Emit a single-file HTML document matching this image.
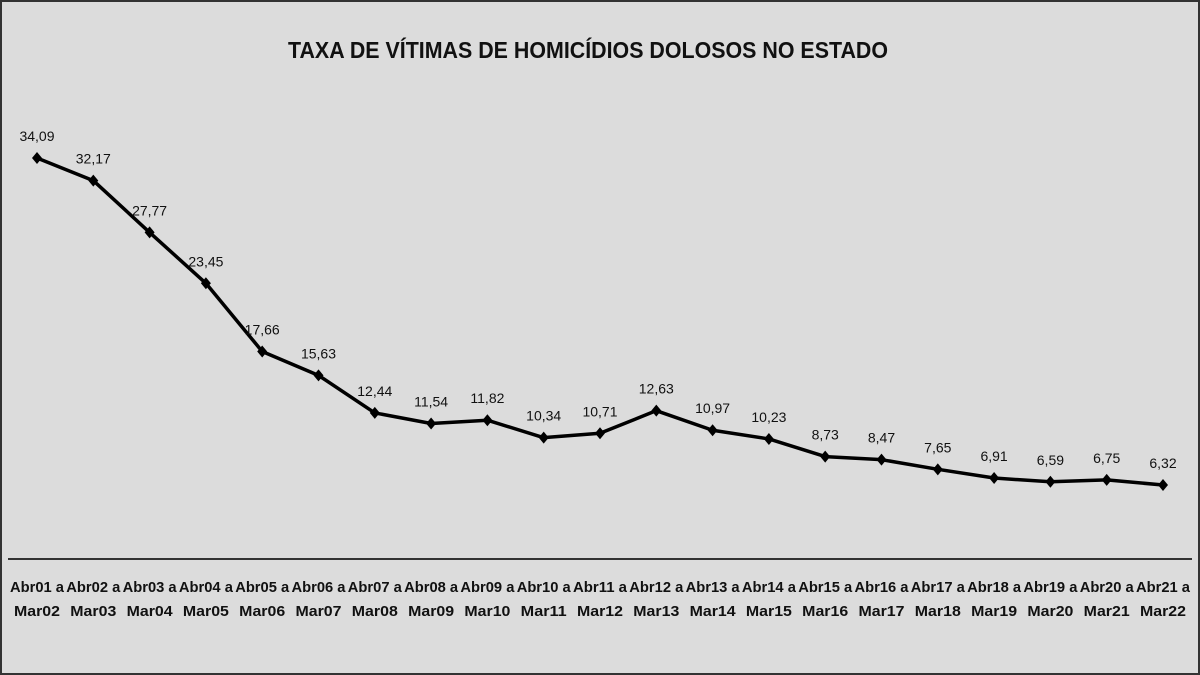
<!DOCTYPE html>
<html><head><meta charset="utf-8"><style>
html,body{margin:0;padding:0;background:#dcdcdc}
svg{display:block;font-family:"Liberation Sans",sans-serif}
</style></head><body>
<svg width="1200" height="675" viewBox="0 0 1200 675">
<rect x="1" y="1" width="1198" height="673" fill="#dcdcdc" stroke="#333" stroke-width="2"/>
<text x="588" y="58" text-anchor="middle" font-size="23" font-weight="bold" fill="#111" textLength="600" lengthAdjust="spacingAndGlyphs">TAXA DE VÍTIMAS DE HOMICÍDIOS DOLOSOS NO ESTADO</text>
<line x1="8" y1="559" x2="1192" y2="559" stroke="#333" stroke-width="2"/>
<g id="plot"></g>
</svg>
<script>
const startLabels=["Abr01","Abr02","Abr03","Abr04","Abr05","Abr06","Abr07","Abr08","Abr09","Abr10","Abr11","Abr12","Abr13","Abr14","Abr15","Abr16","Abr17","Abr18","Abr19","Abr20","Abr21"];
const endLabels=["Mar02","Mar03","Mar04","Mar05","Mar06","Mar07","Mar08","Mar09","Mar10","Mar11","Mar12","Mar13","Mar14","Mar15","Mar16","Mar17","Mar18","Mar19","Mar20","Mar21","Mar22"];
const values=[34.09,32.17,27.77,23.45,17.66,15.63,12.44,11.54,11.82,10.34,10.71,12.63,10.97,10.23,8.73,8.47,7.65,6.91,6.59,6.75,6.32];
const NS="http://www.w3.org/2000/svg";
const g=document.getElementById('plot');
const xS=i=>37+i*(1163-37)/(values.length-1);
const yS=v=>559.4-v*11.775;
function mk(t,a){const e=document.createElementNS(NS,t);for(const k in a)e.setAttribute(k,a[k]);g.appendChild(e);return e;}
const line=mk('polyline',{points:values.map((v,i)=>xS(i)+','+yS(v)).join(' '),fill:'none',stroke:'#000','stroke-width':3.5,'stroke-linejoin':'round'});


values.forEach((v,i)=>{
  const x=xS(i),y=yS(v);
  const p=mk('polygon',{points:`${x},${y-6} ${x+5},${y} ${x},${y+6} ${x-5},${y}`,fill:'#000'});
  
  
  const t=mk('text',{x:x,y:y-17,'text-anchor':'middle','font-size':14,fill:'#111'});
  t.textContent=v.toFixed(2).replace('.',',');
  
  
  const a=mk('text',{x:x,y:592,'text-anchor':'middle','font-size':15,'font-weight':'bold',fill:'#111',textLength:54,lengthAdjust:'spacingAndGlyphs'});
  a.textContent=startLabels[i]+' a';
  
  
  const b=mk('text',{x:x,y:616,'text-anchor':'middle','font-size':15,'font-weight':'bold',fill:'#111',textLength:46,lengthAdjust:'spacingAndGlyphs'});
  b.textContent=endLabels[i];
  
  
});
</script>
</body></html>
